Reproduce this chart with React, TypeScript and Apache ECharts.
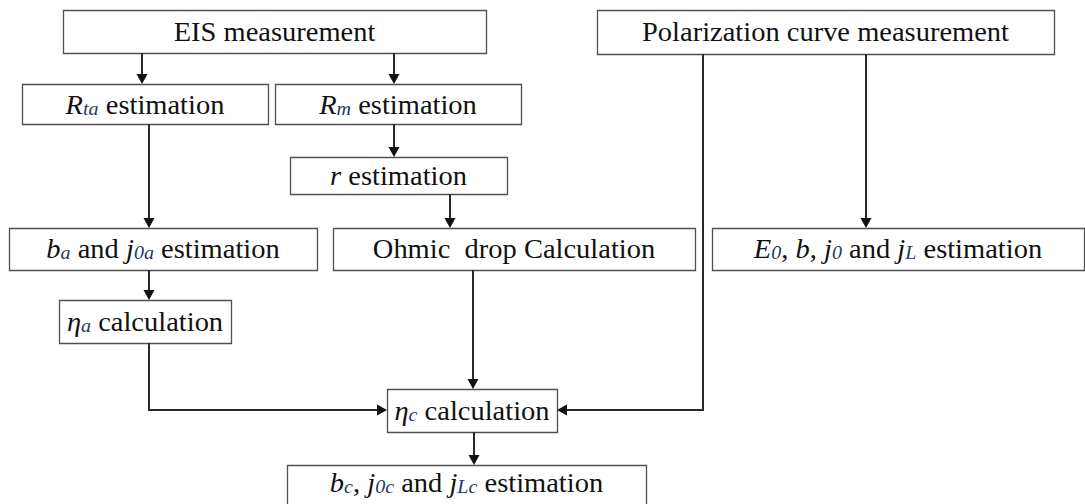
import React, { useEffect, useRef } from "react";
import * as echarts from "echarts";

// ---- content ----
const nodeLabels: string[] = [
  "EIS measurement",
  "Polarization curve measurement",
  "{i|R}{s|ta} estimation",
  "{i|R}{s|m} estimation",
  "{i|r} estimation",
  "{i|b}{s|a} and {i|j}{s|0a} estimation",
  "Ohmic  drop Calculation",
  "{i|E}{s|0}, {i|b}, {i|j}{s|0} and {i|j}{s|L} estimation",
  "{i|η}{s|a} calculation",
  "{i|η}{s|c} calculation",
  "{i|b}{s|c}, {i|j}{s|0c} and {i|j}{s|Lc} estimation",
];

// ---- layout (x0, y0, x1, y1) ----
const nodeLayout: number[][] = [
  [63, 10, 486, 53],
  [597, 10, 1054, 54],
  [22, 84, 268, 124],
  [275, 84, 521, 124],
  [290, 157, 507, 194],
  [9, 228, 317, 270],
  [333, 228, 695, 270],
  [712, 228, 1084, 270],
  [59, 300, 231, 343],
  [387, 389, 557, 432],
  [287, 465, 646, 514],
];
// vertical centre of each label
const labelCenterY: number[] = [32, 32, 105, 105, 176, 249, 249, 249, 322, 411, 483];

// connector routes; last point is the arrow tip
const connectorRoutes: number[][][] = [
  [[142, 53], [142, 84]],
  [[394, 53], [394, 84]],
  [[149, 124], [149, 228]],
  [[394, 124], [394, 157]],
  [[450, 194], [450, 228]],
  [[149, 270], [149, 300]],
  [[149, 343], [149, 410], [387, 410]],
  [[473, 270], [473, 389]],
  [[703, 54], [703, 410], [557, 410]],
  [[866, 54], [866, 228]],
  [[474, 432], [474, 465]],
];

const FAMILY = "\"Liberation Serif\", \"Times New Roman\", \"DejaVu Serif\", serif";
const TEXT_COLOR = "#111111";
const SUB_COLOR = "#1e3766";
const BOX_STROKE = "#505050";
const LINE_COLOR = "#2a2a2a";

function buildGraphic(): any[] {
  const els: any[] = [];
  nodeLayout.forEach((b, i) => {
    const [x0, y0, x1, y1] = b;
    els.push({
      type: "rect",
      shape: { x: x0 + 0.5, y: y0 + 0.5, width: x1 - x0, height: y1 - y0 },
      style: { fill: "#ffffff", stroke: BOX_STROKE, lineWidth: 1.3 },
      z: 1,
    });
    els.push({
      type: "text",
      x: (x0 + x1) / 2,
      y: labelCenterY[i],
      scaleX: 1.055,
      z: 2,
      style: {
        text: nodeLabels[i],
        x: 0,
        y: 0,
        align: "center",
        verticalAlign: "middle",
        font: "27px " + FAMILY,
        lineHeight: 26,
        fill: TEXT_COLOR,
        rich: {
          i: {
            font: "italic 27px " + FAMILY,
            lineHeight: 26,
            fill: TEXT_COLOR,
          },
          s: {
            font: "italic 19px " + FAMILY,
            lineHeight: 16,
            verticalAlign: "bottom",
            fill: SUB_COLOR,
          },
        },
      },
    });
  });

  connectorRoutes.forEach((pts) => {
    const n = pts.length;
    const [tx, ty] = pts[n - 1];
    const [px, py] = pts[n - 2];
    const dx = tx - px;
    const dy = ty - py;
    const len = Math.hypot(dx, dy);
    const ux = dx / len;
    const uy = dy / len;
    const L = 10;
    const W = 5.5;
    const bx = tx - ux * L;
    const by = ty - uy * L;
    const linePts = pts.slice(0, n - 1).concat([[bx + ux, by + uy]]);
    els.push({
      type: "polyline",
      shape: { points: linePts },
      style: { stroke: LINE_COLOR, lineWidth: 2, fill: "none" },
      z: 3,
    });
    els.push({
      type: "polygon",
      shape: {
        points: [
          [tx, ty],
          [bx - uy * W, by + ux * W],
          [bx + uy * W, by - ux * W],
        ],
      },
      style: { fill: "#111111", stroke: "none" },
      z: 3,
    });
  });
  return els;
}

export default function App() {
  const ref = useRef<HTMLDivElement>(null);
  useEffect(() => {
    if (!ref.current) return;
    const chart = echarts.init(ref.current, undefined, { renderer: "svg" });
    chart.setOption({
      animation: false,
      backgroundColor: "#ffffff",
      graphic: { elements: buildGraphic() },
    });
    return () => chart.dispose();
  }, []);
  return (
    <div
      ref={ref}
      style={{
        position: "fixed",
        left: 0,
        top: 0,
        width: 1085,
        height: 504,
        background: "#ffffff",
      }}
    />
  );
}
